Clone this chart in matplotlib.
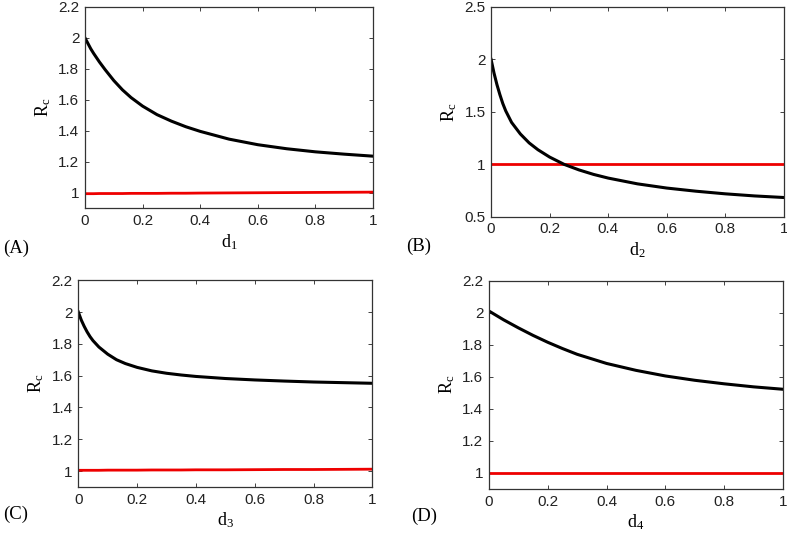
import matplotlib
matplotlib.use("Agg")
import matplotlib.pyplot as plt
from matplotlib.ticker import FormatStrFormatter

# panel (A): R_c against d1
d1 = [0, 0.01, 0.02, 0.03, 0.05, 0.07, 0.1, 0.13, 0.16, 0.2, 0.25, 0.3, 0.35, 0.4,
      0.5, 0.6, 0.7, 0.8, 0.9, 1.0]
rc1_black = [2.0, 1.965, 1.93, 1.90, 1.845, 1.795, 1.725, 1.665, 1.615, 1.56, 1.505, 1.463,
             1.427, 1.397, 1.347, 1.311, 1.285, 1.265, 1.25, 1.237]
rc1_red = [0.995, 0.995, 0.995, 0.995, 0.996, 0.996, 0.996, 0.996, 0.997, 0.997, 0.997, 0.998,
           0.998, 0.999, 1.0, 1.001, 1.002, 1.003, 1.004, 1.005]

# panel (B): R_c against d2
d2 = [0, 0.01, 0.02, 0.03, 0.04, 0.05, 0.07, 0.1, 0.13, 0.16, 0.2, 0.25, 0.3, 0.35, 0.4,
      0.5, 0.6, 0.7, 0.8, 0.9, 1.0]
rc2_black = [2.0, 1.87, 1.76, 1.665, 1.58, 1.51, 1.40, 1.29, 1.205, 1.14, 1.07, 1.0, 0.948,
             0.905, 0.87, 0.815, 0.775, 0.745, 0.72, 0.70, 0.685]
rc2_red = [1.0] * len(d2)

# panel (C): R_c against d3
d3 = [0, 0.01, 0.02, 0.03, 0.04, 0.05, 0.07, 0.1, 0.13, 0.16, 0.2, 0.25, 0.3, 0.35, 0.4,
      0.5, 0.6, 0.7, 0.8, 0.9, 1.0]
rc3_black = [2.0, 1.95, 1.91, 1.875, 1.845, 1.82, 1.78, 1.735, 1.70, 1.676, 1.652, 1.63, 1.615,
             1.604, 1.595, 1.582, 1.573, 1.566, 1.56, 1.556, 1.552]
rc3_red = [1.005, 1.005, 1.005, 1.005, 1.005, 1.005, 1.005, 1.006, 1.006, 1.006, 1.006, 1.007,
           1.007, 1.007, 1.008, 1.008, 1.009, 1.010, 1.010, 1.011, 1.012]

# panel (D): R_c against d4
d4 = [0, 0.05, 0.1, 0.15, 0.2, 0.25, 0.3, 0.4, 0.5, 0.6, 0.7, 0.8, 0.9, 1.0]
rc4_black = [2.01, 1.955, 1.905, 1.858, 1.815, 1.776, 1.74, 1.683, 1.64, 1.605, 1.578, 1.556,
             1.537, 1.522]
rc4_red = [1.0] * len(d4)

xticks = [0, 0.2, 0.4, 0.6, 0.8, 1]
yticks_small = [1, 1.2, 1.4, 1.6, 1.8, 2, 2.2]
yticks_b = [0.5, 1, 1.5, 2, 2.5]

plt.rcParams["font.family"] = "Liberation Sans"
plt.rcParams["mathtext.fontset"] = "custom"
plt.rcParams["mathtext.rm"] = "Liberation Serif"
plt.rcParams["mathtext.it"] = "Liberation Serif:italic"

fig = plt.figure(figsize=(7.87, 5.33), dpi=100)

panels = [
    ([0.108, 0.609, 0.366, 0.378], d1, rc1_black, rc1_red, "1", (0.9, 2.2), yticks_small, "(A)", (0.004, 0.535)),
    ([0.624, 0.593, 0.372, 0.394], d2, rc2_black, rc2_red, "2", (0.5, 2.5), yticks_b, "(B)", (0.516, 0.537)),
    ([0.0995, 0.0863, 0.3736, 0.388], d3, rc3_black, rc3_red, "3", (0.9, 2.2), yticks_small, "(C)", (0.004, 0.035)),
    ([0.6213, 0.0826, 0.3736, 0.391], d4, rc4_black, rc4_red, "4", (0.9, 2.2), yticks_small, "(D)", (0.522, 0.032)),
]

for rect, d, black, red, idx, ylim, yticks, tag, tagpos in panels:
    ax = fig.add_axes(rect)
    ax.plot(d, red, color="#ee0000", lw=2.0)
    ax.plot(d, black, color="black", lw=2.2)
    ax.set_xlim(0, 1)
    ax.set_ylim(*ylim)
    ax.set_xticks(xticks)
    ax.set_yticks(yticks)
    ax.xaxis.set_major_formatter(FormatStrFormatter("%g"))
    ax.yaxis.set_major_formatter(FormatStrFormatter("%g"))
    ax.tick_params(direction="in", top=True, right=True, length=3, width=0.6,
                   labelsize=11, pad=4, colors="#222222")
    for s in ax.spines.values():
        s.set_linewidth(0.9)
        s.set_color("#333333")
    ax.set_xlabel(r"$\mathrm{d}_{%s}$" % idx, fontsize=13, labelpad=3)
    ax.set_ylabel(r"$\mathrm{R}_{\mathrm{c}}$", fontsize=13, labelpad=4)
    fig.text(tagpos[0], tagpos[1], tag, family="Liberation Serif", fontsize=13.5,
             ha="left", va="center")

fig.savefig("out.png", dpi=100)
